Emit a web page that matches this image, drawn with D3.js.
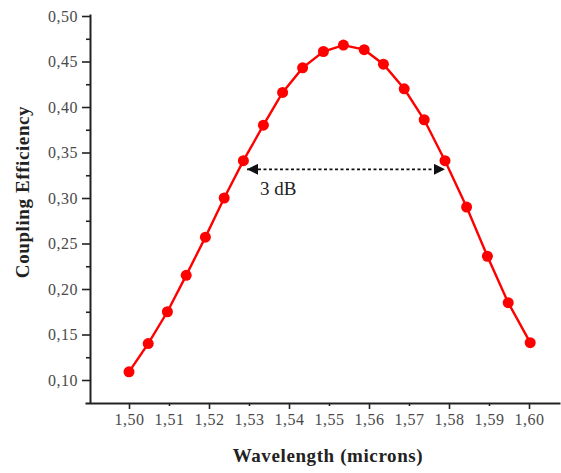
<!DOCTYPE html>
<html lang="en">
  <head>
    <meta charset="UTF-8" />
    <title>Coupling Efficiency</title>
    <script src="https://d3js.org/d3.v7.min.js"></script>
    <style>
      body {
        margin: 0;
        background: #fff;
      }
      * {
        font-family: "Liberation Serif", "Times New Roman", serif;
      }
      .axis path,
      .axis line {
        stroke: #222;
      }
      .axis path {
        stroke-width: 2px;
      }
      .axis line {
        stroke-width: 1.6px;
      }
      .axis text {
        fill: #4a4a4a;
        font-size: 16px;
        letter-spacing: 0.5px;
      }
      .title {
        font-weight: bold;
        font-size: 19px;
        letter-spacing: 0.6px;
        fill: #222;
        text-anchor: middle;
      }
    </style>
  </head>
  <body></body>
  <script>
    // wavelength (microns) and coupling efficiency
    const wavelength = [
      1.5, 1.5048, 1.5096, 1.5143, 1.5191, 1.5238, 1.5286, 1.5336, 1.5384,
      1.5434, 1.5486, 1.5536, 1.5588, 1.5636, 1.5688, 1.5738, 1.579, 1.5844,
      1.5896, 1.5948, 1.6003,
    ];
    const efficiency = [
      0.109, 0.14, 0.175, 0.215, 0.257, 0.3, 0.341, 0.38, 0.416, 0.443, 0.461,
      0.468, 0.463, 0.447, 0.42, 0.386, 0.341, 0.29, 0.236, 0.185, 0.141,
    ];

    const xTicks = [1.5, 1.51, 1.52, 1.53, 1.54, 1.55, 1.56, 1.57, 1.58, 1.59, 1.6];
    const yTicks = [0.1, 0.15, 0.2, 0.25, 0.3, 0.35, 0.4, 0.45, 0.5];
    const yMinorTicks = [0.125, 0.175, 0.225, 0.275, 0.325, 0.375, 0.425, 0.475];

    // 3 dB bandwidth marker
    const bandEdges = [1.5295, 1.579];
    const bandLevel = 0.3315;
    const bandLabel = "3 dB";

    const width = 561;
    const height = 473;

    const x = d3.scaleLinear().domain([1.489, 1.60775]).range([85, 560]);
    const y = d3.scaleLinear().domain([0.07473, 0.5022]).range([403, 14]);
    const yAxisX = 90;

    const comma = d3.formatLocale({ decimal: ",", thousands: ".", grouping: [3], currency: ["", ""] });
    const fmt = comma.format(".2f");

    const svg = d3
      .select("body")
      .append("svg")
      .attr("width", width)
      .attr("height", height);

    const defs = svg.append("defs");
    defs
      .append("marker")
      .attr("id", "head")
      .attr("viewBox", "0 0 10 10")
      .attr("refX", 10)
      .attr("refY", 5)
      .attr("markerWidth", 14)
      .attr("markerHeight", 11)
      .attr("markerUnits", "userSpaceOnUse")
      .attr("orient", "auto-start-reverse")
      .append("path")
      .attr("d", "M0,0 L10,5 L0,10 Z")
      .attr("fill", "#111");

    // x axis: label on every tick, long ticks on even hundredths
    const xAxis = svg
      .append("g")
      .attr("class", "axis")
      .attr("transform", `translate(0, ${y.range()[0]})`)
      .call(
        d3.axisBottom(x).tickValues(xTicks).tickSize(6).tickSizeOuter(0).tickPadding(5).tickFormat(fmt)
      );
    xAxis
      .selectAll(".tick line")
      .attr("y2", (d, i) => (i % 2 === 0 ? 6 : 3));

    // y axis with minor ticks
    svg
      .append("g")
      .attr("class", "axis")
      .attr("transform", `translate(${yAxisX}, 0)`)
      .call(d3.axisLeft(y).tickValues(yTicks).tickSize(8).tickSizeOuter(0).tickPadding(4).tickFormat(fmt));

    svg
      .append("g")
      .attr("class", "axis")
      .attr("transform", `translate(${yAxisX}, 0)`)
      .call(d3.axisLeft(y).tickValues(yMinorTicks).tickSize(4).tickSizeOuter(0).tickFormat(""))
      .select(".domain")
      .remove();

    const points = wavelength.map((w, i) => ({ w: w, e: efficiency[i] }));

    const line = d3
      .line()
      .x((d) => x(d.w))
      .y((d) => y(d.e));

    svg
      .append("path")
      .datum(points)
      .attr("d", line)
      .attr("fill", "none")
      .attr("stroke", "#f00")
      .attr("stroke-width", 2.4);

    svg
      .selectAll("circle.pt")
      .data(points)
      .enter()
      .append("circle")
      .attr("class", "pt")
      .attr("cx", (d) => x(d.w))
      .attr("cy", (d) => y(d.e))
      .attr("r", 5.5)
      .attr("fill", "#f00");

    // 3 dB arrow
    svg
      .append("line")
      .attr("x1", x(bandEdges[0]))
      .attr("x2", x(bandEdges[1]))
      .attr("y1", y(bandLevel))
      .attr("y2", y(bandLevel))
      .attr("stroke", "#111")
      .attr("stroke-width", 1.6)
      .attr("stroke-dasharray", "3,2.5")
      .attr("marker-start", "url(#head)")
      .attr("marker-end", "url(#head)");

    svg
      .append("text")
      .attr("x", x(bandEdges[0]) + 13)
      .attr("y", y(bandLevel) + 26)
      .attr("font-size", 19)
      .attr("fill", "#222")
      .text(bandLabel);

    // axis titles
    svg
      .append("text")
      .attr("class", "title")
      .attr("x", 328)
      .attr("y", 462)
      .text("Wavelength (microns)");

    svg
      .append("text")
      .attr("class", "title")
      .attr("transform", "translate(29, 192) rotate(-90)")
      .text("Coupling Efficiency");
  </script>
</html>
